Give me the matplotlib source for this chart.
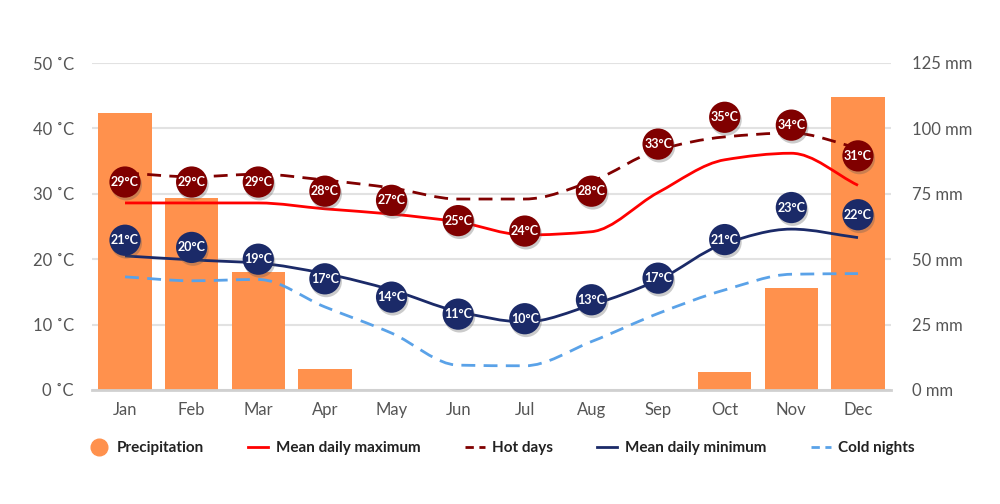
import numpy as np
import matplotlib
matplotlib.use("Agg")
import matplotlib.pyplot as plt
import matplotlib.patheffects as pe
from matplotlib.path import Path
from matplotlib.patches import PathPatch
from matplotlib.lines import Line2D

# datos
meses = ["Jan", "Feb", "Mar", "Apr", "May", "Jun", "Jul", "Aug", "Sep", "Oct", "Nov", "Dec"]
precipitacion = [106, 73.5, 45, 8, 0, 0, 0, 0, 0, 7, 39, 112]  # mm
max_media = [28.6, 28.6, 28.6, 27.7, 26.9, 25.7, 23.7, 24.2, 30.2, 35.2, 36.2, 31.3]
dias_calurosos = [33.2, 32.6, 33.0, 32.1, 30.9, 29.2, 29.2, 31.9, 36.7, 38.7, 39.3, 37.0]
min_media = [20.5, 19.9, 19.4, 17.8, 15.3, 12.0, 10.4, 13.0, 16.8, 22.4, 24.6, 23.3]
noches_frias = [17.3, 16.7, 16.9, 12.7, 8.7, 3.8, 3.7, 7.4, 11.7, 15.3, 17.7, 17.8]

# etiquetas de los circulos y donde estan dibujados
etiq_calor = [29, 29, 29, 28, 27, 25, 24, 28, 33, 35, 34, 31]
pos_calor = [31.8, 31.8, 31.8, 30.4, 29.0, 25.9, 24.3, 30.4, 37.6, 41.7, 40.5, 35.8]
etiq_frio = [21, 20, 19, 17, 14, 11, 10, 13, 17, 21, 23, 22]
pos_frio = [22.9, 21.8, 20.0, 17.0, 14.2, 11.6, 10.9, 13.8, 17.1, 23.0, 27.9, 26.8]

ticks_temp = [0, 10, 20, 30, 40, 50]
ticks_mm = [0, 25, 50, 75, 100, 125]

NARANJA = "#ff914d"
ROJO = "#ff0000"
ROJO_OSCURO = "#800000"
AZUL_OSCURO = "#1b2a68"
AZUL_CLARO = "#5aa2e8"
GRIS = "#555555"

plt.rcParams["font.family"] = ["Lato", "DejaVu Sans"]


def curva_suave(x, y):
    # spline monotona (Fritsch-Carlson) pasada a curvas bezier
    x = np.asarray(x, float)
    y = np.asarray(y, float)
    h = np.diff(x)
    d = np.diff(y) / h
    m = np.zeros_like(y)
    m[0], m[-1] = d[0], d[-1]
    for i in range(1, len(y) - 1):
        if d[i - 1] * d[i] <= 0:
            m[i] = 0
        else:
            m[i] = 2 / (1 / d[i - 1] + 1 / d[i])
    verts = [(x[0], y[0])]
    codes = [Path.MOVETO]
    for i in range(len(x) - 1):
        verts += [(x[i] + h[i] / 3, y[i] + m[i] * h[i] / 3),
                  (x[i + 1] - h[i] / 3, y[i + 1] - m[i + 1] * h[i] / 3),
                  (x[i + 1], y[i + 1])]
        codes += [Path.CURVE4] * 3
    return Path(verts, codes)


fig = plt.figure(figsize=(10, 5.04), dpi=100)
ax = fig.add_axes([0.0917, 0.2262, 0.7996, 0.6488])
x = np.arange(len(meses))

# barras de precipitacion (eje derecho)
ax.bar(x, precipitacion, width=0.8, color=NARANJA, zorder=2)
ax.set_ylim(0, 125)
ax.set_xlim(-0.5, 11.5)
ax.set_xticks(x)
ax.set_xticklabels(meses)
ax.tick_params(axis="x", length=0, pad=9, labelsize=12, labelcolor=GRIS)
ax.grid(axis="y", color="#e2e2e2", linewidth=1.5)
ax.set_axisbelow(True)
for s in ["top", "left", "right"]:
    ax.spines[s].set_visible(False)
ax.spines["bottom"].set_color("#d0d0d0")
ax.spines["bottom"].set_linewidth(2)

# temperaturas (eje izquierdo)
at = ax.twinx()
at.set_ylim(0, 50)
at.set_xlim(-0.5, 11.5)
at.yaxis.tick_left()
at.set_yticks(ticks_temp)
at.set_yticklabels([f"{t} ˚C" for t in ticks_temp])
at.tick_params(axis="y", length=0, pad=13, labelsize=12, labelcolor=GRIS)
for s in at.spines.values():
    s.set_visible(False)

# twinx pone el eje original a la izquierda, se pasa a la derecha despues
ax.yaxis.tick_right()
ax.set_yticks(ticks_mm)
ax.set_yticklabels([f"{t} mm" for t in ticks_mm])
ax.tick_params(axis="y", length=0, pad=15, labelsize=12, labelcolor=GRIS)

series = [
    (max_media, ROJO, "-"),
    (dias_calurosos, ROJO_OSCURO, (0, (5, 3))),
    (min_media, AZUL_OSCURO, "-"),
    (noches_frias, AZUL_CLARO, (0, (5, 3))),
]
for valores, color, estilo in series:
    at.add_patch(PathPatch(curva_suave(x, valores), fill=False, edgecolor=color,
                           linewidth=2, linestyle=estilo, zorder=3))

sombra = [pe.SimplePatchShadow(offset=(1, -2), shadow_rgbFace="#555555", alpha=0.3), pe.Normal()]
for pos, etiq, color in [(pos_calor, etiq_calor, ROJO_OSCURO), (pos_frio, etiq_frio, AZUL_OSCURO)]:
    at.plot(x, pos, "o", markersize=22.5, color=color, markeredgewidth=0,
            zorder=4, path_effects=sombra)
    for xi, yi, t in zip(x, pos, etiq):
        at.text(xi, yi, f"{t}°C", color="white", fontsize=9, fontweight="bold",
                ha="center", va="center", zorder=5)

# leyenda
manejadores = [
    Line2D([], [], marker="o", linestyle="none", markersize=12, color=NARANJA),
    Line2D([], [], color=ROJO, linewidth=2),
    Line2D([], [], color=ROJO_OSCURO, linewidth=2, linestyle=(0, (3, 2))),
    Line2D([], [], color=AZUL_OSCURO, linewidth=2),
    Line2D([], [], color=AZUL_CLARO, linewidth=2, linestyle=(0, (3, 2))),
]
nombres = ["Precipitation", "Mean daily maximum", "Hot days", "Mean daily minimum", "Cold nights"]
fig.legend(manejadores, nombres, loc="center", bbox_to_anchor=(0.502, 0.111), ncol=5,
           frameon=False, handlelength=1.3, handletextpad=0.5, columnspacing=2.9,
           prop={"family": ["Lato", "DejaVu Sans"], "weight": "bold", "size": 11},
           labelcolor="#222222")

fig.savefig("out.png", dpi=100)
